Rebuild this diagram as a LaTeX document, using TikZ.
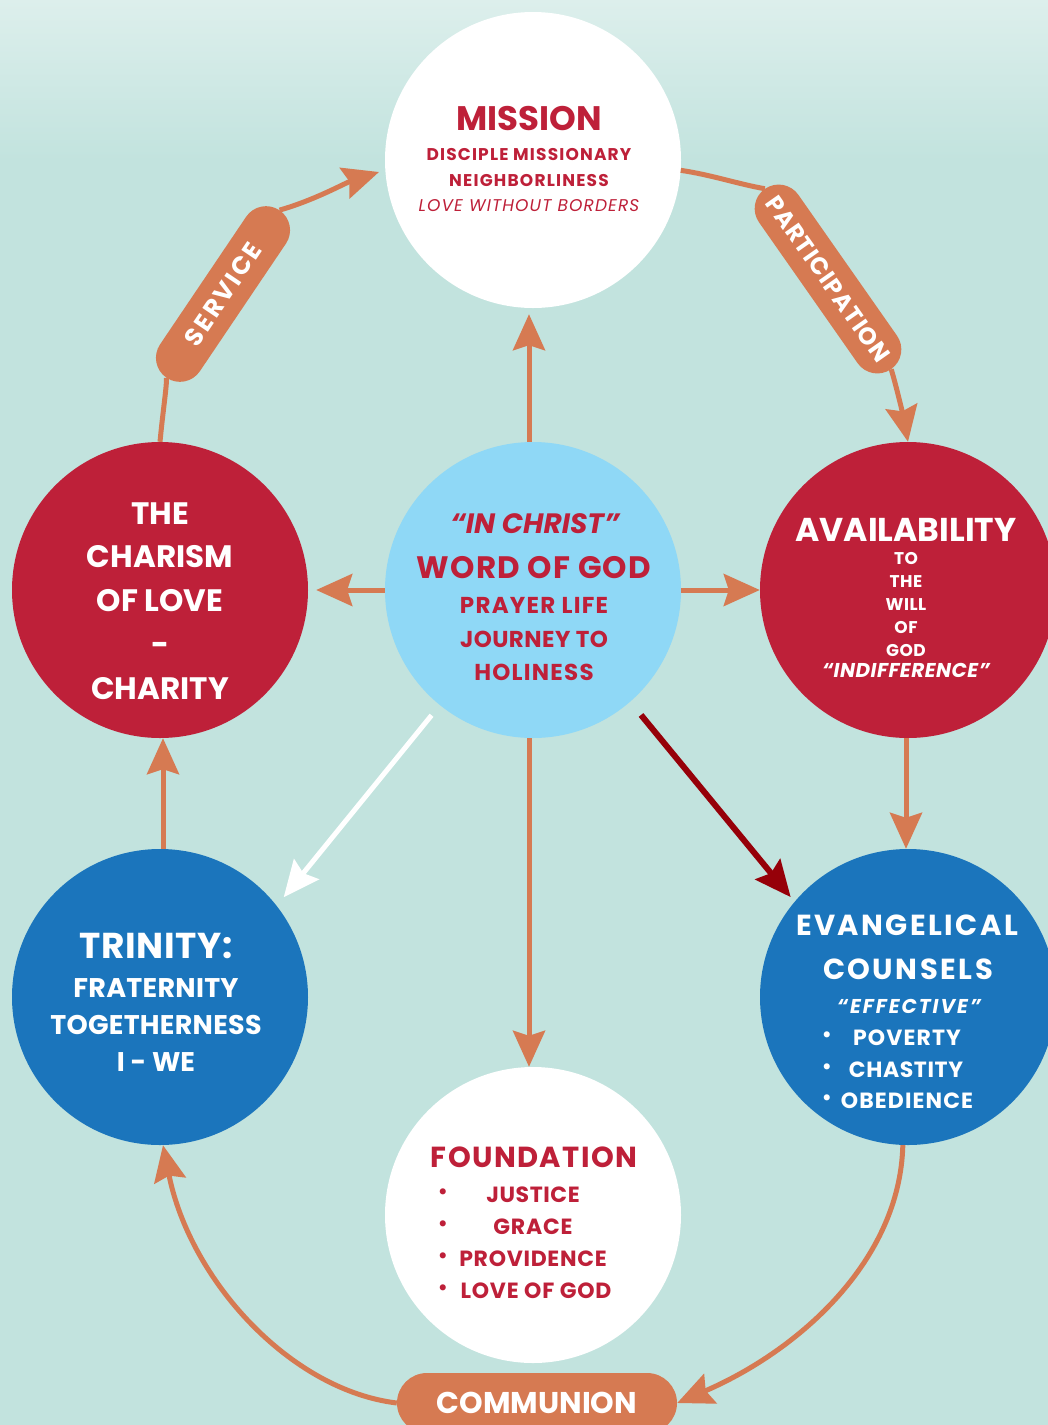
\documentclass[tikz,border=0pt]{standalone}
\usepackage{fontspec}
\setmainfont{Poppins}
\usetikzlibrary{arrows.meta}
\definecolor{bg}{HTML}{C2E3DE}
\definecolor{bgtop}{HTML}{DDEFEC}
\definecolor{org}{HTML}{D67A52}
\definecolor{crim}{HTML}{BE2039}
\definecolor{blu}{HTML}{1B75BC}
\definecolor{lblu}{HTML}{8FD8F6}
\definecolor{dred}{HTML}{960009}
\newcommand\fsz[1]{\fontsize{#1}{#1}\selectfont}
\newcommand\lsp[1]{\addfontfeatures{LetterSpace=#1}}
\begin{document}
\begin{tikzpicture}[x=1pt,y=-1pt,
  disc/.style={circle, minimum size=296pt, inner sep=0pt, draw=none},
  wt/.style={anchor=base, inner sep=0pt, text=white},
  rt/.style={anchor=base, inner sep=0pt, text=crim},
  bul/.style={anchor=center, inner sep=0pt},
  pill/.style={fill=org, rounded corners=24pt, minimum height=48pt, inner sep=0pt, text=white, font=\bfseries\fsz{25}},
  oline/.style={draw=org, line width=5pt},
  oarr/.style={draw=org, line width=5pt, -{Stealth[length=36pt,width=32pt,inset=5pt]}},
  warr/.style={draw=white, line width=5pt, -{Stealth[length=36pt,width=32pt,inset=5pt]}},
  rarr/.style={draw=dred, line width=6pt, -{Stealth[length=36pt,width=32pt,inset=5pt]}}]
\useasboundingbox (0,0) rectangle (1048,1425);
\fill[bg] (0,0) rectangle (1048,1425);
\shade[top color=bgtop, bottom color=bg] (0,0) rectangle (1048,160);

% circles
\node[disc, fill=white] (M) at (533,160) {};
\node[disc, fill=lblu] (C) at (533,590) {};
\node[disc, fill=crim] (L) at (160,590) {};
\node[disc, fill=crim] (R) at (908,590) {};
\node[disc, fill=blu] (TL) at (160,997) {};
\node[disc, fill=blu] (TR) at (908,997) {};
\node[disc, fill=white] (F) at (533,1215) {};

% pills
\node[pill, rotate=56, minimum width=202pt, font=\bfseries\fsz{25}\lsp{10}] (sv) at (223,294) {SERVICE};
\node[pill, rotate=-55, minimum width=220pt, font=\bfseries\fsz{24}\lsp{4}] (pc) at (828,279) {PARTICIPATION};
\node[pill, minimum width=280pt, minimum height=60pt, rounded corners=30pt, font=\bfseries\fsz{30}] (cm) at (537,1403) {COMMUNION};
\coordinate (svtip) at (379,172);

% connectors
\draw[oarr, shorten >=6pt] ([xshift=-4pt]C.north) -- ([xshift=-4pt]M.south);
\draw[oarr, shorten >=8pt] (C.west) -- (L.east);
\draw[oarr] (C.east) -- (R.west);
\draw[oarr] ([xshift=-4pt]C.south) -- ([xshift=-4pt]F.north);
\draw[oarr] ([xshift=-2pt]R.south) -- ([xshift=-2pt]TR.north);
\draw[oarr] ([xshift=3pt]TL.north) -- ([xshift=3pt]L.south);
\draw[warr, shorten <=13pt, shorten >=11pt] (C.231) -- (TL.38);
\draw[rarr, shorten <=17pt, shorten >=6pt] (C.311) -- (TR.140);

\draw[oline] (L.north) .. controls (163,410) and (167,385) .. (sv.west);
\draw[oarr] (sv.east) .. controls (315,200) and (345,183) .. (svtip);
\draw[oline] (M.-4) .. controls (712,175) and (738,184) .. (pc.west);
\draw[oarr] (pc.east) .. controls (896,385) and (903,415) .. (R.north);
\draw[oarr] (cm.west) .. controls (290,1390) and (190,1280) .. ([xshift=3pt]TL.south);
\draw[oarr] (TR.268) .. controls (900,1260) and (800,1350) .. (cm.east);

% mission text
\node[rt, font=\bfseries\fsz{34}] (m1) at (529,130) {MISSION};
\node[rt, font=\bfseries\fsz{17}\lsp{6.8}] (m2) at (529,160) {DISCIPLE MISSIONARY};
\node[rt, font=\bfseries\fsz{17}\lsp{7}] (m3) at (529,186) {NEIGHBORLINESS};
\node[rt, font=\itshape\fsz{17}\lsp{6.5}] (m4) at (529,211) {LOVE WITHOUT BORDERS};

% center text
\node[rt, font=\bfseries\itshape\fsz{28}] (c1) at (535,533) {“IN CHRIST”};
\node[rt, font=\bfseries\fsz{31}\lsp{3.8}] (c2) at (534,578) {WORD OF GOD};
\node[rt, font=\bfseries\fsz{23}\lsp{5.5}] (c3) at (534,613) {PRAYER LIFE};
\node[rt, font=\bfseries\fsz{23}\lsp{2}] (c4) at (534,647) {JOURNEY TO};
\node[rt, font=\bfseries\fsz{23}\lsp{5.4}] (c5) at (534,680) {HOLINESS};

% charism text
\node[wt, font=\bfseries\fsz{31}] (l1) at (160,524) {THE};
\node[wt, font=\bfseries\fsz{31}] (l2) at (160,567) {CHARISM};
\node[wt, font=\bfseries\fsz{31}] (l3) at (160,611) {OF LOVE};
\node[wt, font=\bfseries\fsz{31}] (l4) at (160,655) {-};
\node[wt, font=\bfseries\fsz{31}] (l5) at (160,699) {CHARITY};

% availability text
\node[wt, font=\bfseries\fsz{33}] (r1) at (906,541) {AVAILABILITY};
\node[wt, font=\bfseries\fsz{17}\lsp{3}] (r2) at (906,564) {TO};
\node[wt, font=\bfseries\fsz{17}\lsp{3}] (r3) at (906,587) {THE};
\node[wt, font=\bfseries\fsz{17}\lsp{3}] (r4) at (906,610) {WILL};
\node[wt, font=\bfseries\fsz{17}\lsp{3}] (r5) at (906,633) {OF};
\node[wt, font=\bfseries\fsz{17}\lsp{3}] (r6) at (906,656) {GOD};
\node[wt, font=\bfseries\itshape\fsz{20}\lsp{2.5}] (r7) at (906,677) {“INDIFFERENCE”};

% trinity text
\node[wt, font=\bfseries\fsz{36}\lsp{1.5}] (t1) at (156,958) {TRINITY:};
\node[wt, font=\bfseries\fsz{27}\lsp{1}] (t2) at (156,997) {FRATERNITY};
\node[wt, font=\bfseries\fsz{27}\lsp{1}] (t3) at (156,1034) {TOGETHERNESS};
\node[wt, font=\bfseries\fsz{27}] (t4) at (156,1071) {I - WE};

% evangelical text
\node[wt, font=\bfseries\fsz{29}\lsp{8.4}] (e1) at (907,935) {EVANGELICAL};
\node[wt, font=\bfseries\fsz{29}\lsp{8.6}] (e2) at (908,979) {COUNSELS};
\node[wt, font=\bfseries\itshape\fsz{20}\lsp{10}] (e3) at (909,1013) {“EFFECTIVE”};
\node[wt, font=\bfseries\fsz{22}\lsp{5.2}] (e4) at (907,1045) {POVERTY};
\node[wt, font=\bfseries\fsz{22}\lsp{2.8}] (e5) at (906,1077) {CHASTITY};
\node[wt, font=\bfseries\fsz{22}\lsp{5}] (e6) at (907,1108) {OBEDIENCE};
\node[bul, text=white, font=\bfseries\fsz{20}] (eb1) at (827,1037) {•};
\node[bul, text=white, font=\bfseries\fsz{20}] (eb2) at (827,1069) {•};
\node[bul, text=white, font=\bfseries\fsz{20}] (eb3) at (827,1100) {•};

% foundation text
\node[rt, font=\bfseries\fsz{29}\lsp{4.8}] (f1) at (534,1167) {FOUNDATION};
\node[rt, font=\bfseries\fsz{22}\lsp{2.6}] (f2) at (533,1202) {JUSTICE};
\node[rt, font=\bfseries\fsz{22}\lsp{3.6}] (f3) at (533,1234) {GRACE};
\node[rt, font=\bfseries\fsz{22}\lsp{3.2}] (f4) at (533,1266) {PROVIDENCE};
\node[rt, font=\bfseries\fsz{22}\lsp{3.7}] (f5) at (536,1298) {LOVE OF GOD};
\node[bul, text=crim, font=\bfseries\fsz{20}] (fb1) at (443,1194) {•};
\node[bul, text=crim, font=\bfseries\fsz{20}] (fb2) at (443,1226) {•};
\node[bul, text=crim, font=\bfseries\fsz{20}] (fb3) at (443,1258) {•};
\node[bul, text=crim, font=\bfseries\fsz{20}] (fb4) at (443,1290) {•};
\end{tikzpicture}
\end{document}
